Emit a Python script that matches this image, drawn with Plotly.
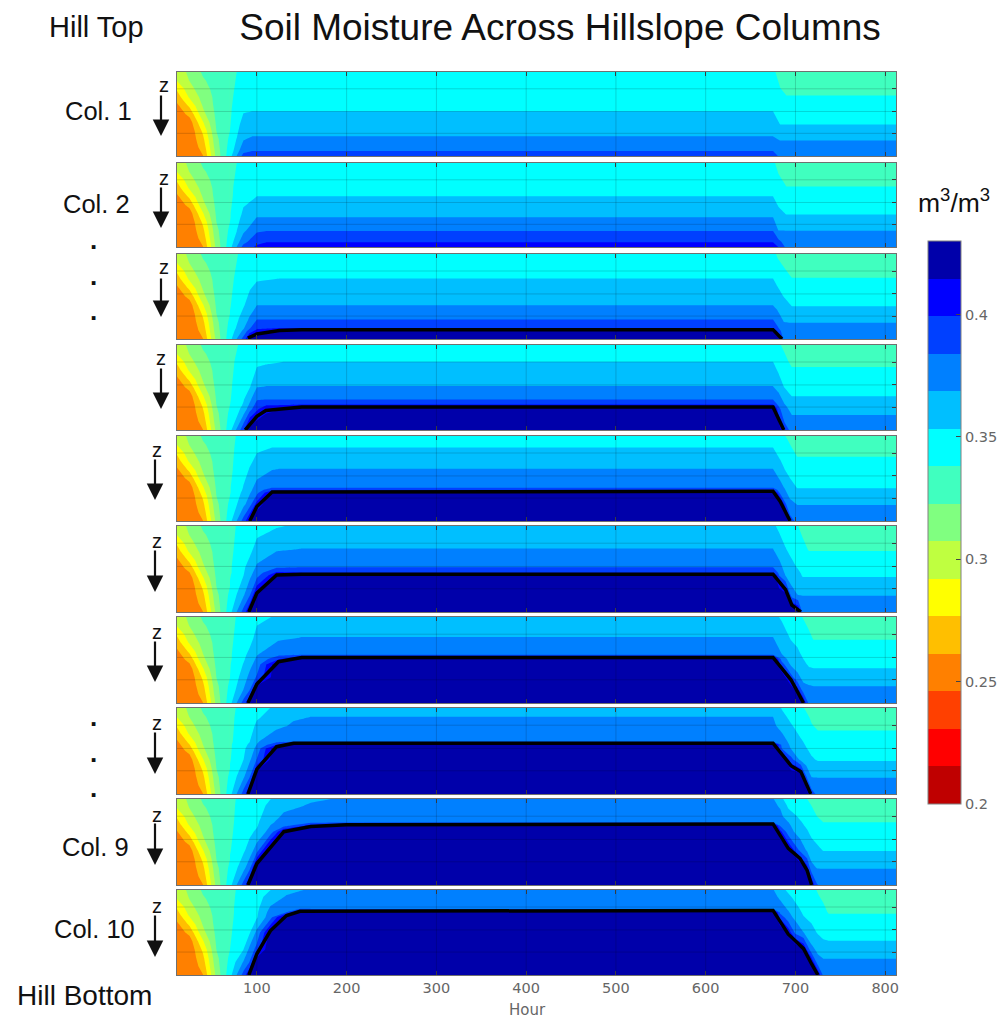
import numpy as np
import plotly.graph_objects as go

# ---------- colour classes ----------
CLASS_COLOURS = ["#BF0000", "#FF0000", "#FF4000", "#FF8000", "#FFBF00", "#FFFF00", "#BFFF40", "#80FF80",
                 "#40FFBF", "#00FFFF", "#00BFFF", "#0080FF", "#0040FF", "#0000FF", "#0000AA"]
Z_MIN = 0.2
Z_MAX = 0.43
CBAR_TICKS = [0.2, 0.25, 0.3, 0.35, 0.4]
HOUR_TICKS = [100, 200, 300, 400, 500, 600, 700, 800]
DEPTH_GRID = [0.2, 0.47, 0.73]

# ---------- early drying stripes, common to every column (moisture by depth, one list per hour) ----------
EARLY_DEPTHS = [0, .1, .2, .3, .4, .5, .6, .7, .8, .9, 1]
EARLY_HOURS = [11, 25, 40, 55, 70]
EARLY_Z = [
    [.298, .293, .279, .269, .258, .252, .250, .250, .250, .250, .250],
    [.311, .308, .302, .294, .280, .266, .254, .250, .250, .250, .250],
    [.325, .321, .317, .313, .309, .303, .291, .280, .273, .267, .261],
    [.329, .329, .328, .327, .327, .326, .325, .323, .319, .316, .312],
    [.335, .335, .335, .335, .336, .336, .337, .338, .341, .344, .348],
]

# ---------- per column: depth nodes, hours, moisture (one list per hour) ----------
COL1_DEPTHS = [0, .28, .46, .62, .77, .82, .94, 1]
COL1_HOURS = [70, 85, 95, 675, 683, 690, 812]
COL1_Z = [
    [.335, .335, .336, .337, .339, .341, .344, .348],
    [.341, .347, .352, .359, .366, .369, .380, .390],
    [.341, .347, .353, .361, .369, .373, .384, .392],
    [.341, .347, .353, .361, .369, .373, .384, .392],
    [.332, .341, .347, .353, .365, .369, .376, .380],
    [.330, .338, .346, .353, .365, .369, .376, .380],
    [.330, .338, .346, .353, .365, .369, .376, .380],
]

COL2_DEPTHS = [0, .28, .39, .61, .65, .81, .94, 1]
COL2_HOURS = [70, 85, 100, 111, 675, 681, 690, 812]
COL2_Z = [
    [.335, .335, .335, .337, .337, .340, .345, .348],
    [.341, .347, .349, .356, .358, .366, .379, .390],
    [.341, .349, .353, .366, .369, .382, .396, .402],
    [.341, .349, .353, .366, .369, .384, .399, .407],
    [.341, .349, .353, .366, .369, .384, .399, .407],
    [.333, .344, .348, .357, .360, .369, .389, .399],
    [.330, .338, .343, .353, .356, .369, .376, .380],
    [.330, .338, .343, .353, .356, .369, .376, .380],
]

COL3_DEPTHS = [0, .28, .61, .77, .875, .905, 1]
COL3_HOURS = [70, 85, 92, 100, 125, 150, 675, 680, 687, 696, 812]
COL3_Z = [
    [.335, .335, .337, .340, .343, .344, .348],
    [.340, .345, .352, .361, .367, .372, .390],
    [.340, .347, .361, .371, .383, .393, .417],
    [.341, .351, .369, .384, .397, .404, .430],
    [.342, .353, .369, .384, .400, .417, .430],
    [.342, .353, .369, .384, .400, .425, .430],
    [.342, .353, .369, .384, .400, .425, .430],
    [.336, .348, .365, .376, .387, .394, .430],
    [.332, .343, .358, .367, .373, .375, .380],
    [.330, .338, .353, .366, .373, .375, .380],
    [.330, .338, .353, .366, .373, .375, .380],
]

COL4_DEPTHS = [0, .19, .49, .64, .71, .75, 1]
COL4_HOURS = [70, 85, 92, 100, 110, 130, 150, 675, 681, 688, 696, 812]
COL4_Z = [
    [.335, .335, .336, .337, .338, .339, .348],
    [.340, .344, .349, .352, .355, .358, .395],
    [.341, .346, .352, .365, .372, .377, .430],
    [.343, .349, .368, .383, .391, .396, .430],
    [.344, .351, .369, .384, .399, .410, .430],
    [.346, .353, .369, .384, .400, .415, .430],
    [.346, .353, .369, .384, .402, .430, .430],
    [.346, .353, .369, .384, .402, .430, .430],
    [.340, .345, .363, .376, .383, .389, .430],
    [.335, .341, .352, .364, .370, .373, .390],
    [.330, .335, .348, .355, .361, .364, .380],
    [.330, .335, .348, .355, .361, .364, .380],
]

COL5_DEPTHS = [0, .13, .39, .61, .635, .665, .8, 1]
COL5_HOURS = [70, 85, 92, 100, 117, 125, 675, 683, 690, 694, 702, 812]
COL5_Z = [
    [.335, .335, .335, .337, .337, .337, .341, .348],
    [.342, .344, .349, .354, .355, .357, .364, .390],
    [.344, .347, .354, .364, .365, .367, .377, .416],
    [.347, .350, .362, .374, .376, .379, .405, .430],
    [.349, .353, .368, .384, .395, .418, .430, .430],
    [.349, .353, .369, .384, .395, .430, .430, .430],
    [.349, .353, .369, .384, .395, .430, .430, .430],
    [.342, .346, .359, .375, .377, .378, .430, .430],
    [.337, .343, .351, .365, .367, .369, .381, .430],
    [.335, .339, .348, .359, .361, .363, .373, .390],
    [.330, .334, .343, .353, .355, .357, .368, .380],
    [.330, .334, .343, .353, .355, .357, .368, .380],
]

COL6_DEPTHS = [0, .27, .48, .545, .575, .8, 1]
COL6_HOURS = [70, 85, 92, 100, 122, 150, 675, 682, 689, 696, 703, 708, 715, 812]
COL6_Z = [
    [.335, .335, .336, .336, .337, .341, .348],
    [.342, .346, .351, .352, .353, .366, .390],
    [.344, .349, .359, .363, .365, .382, .416],
    [.347, .359, .371, .376, .379, .418, .430],
    [.352, .367, .382, .402, .414, .430, .430],
    [.356, .369, .384, .400, .430, .430, .430],
    [.356, .369, .384, .400, .430, .430, .430],
    [.350, .361, .374, .380, .383, .430, .430],
    [.346, .354, .363, .366, .368, .420, .430],
    [.342, .349, .357, .360, .361, .375, .430],
    [.338, .345, .352, .356, .358, .368, .418],
    [.334, .342, .350, .351, .352, .368, .380],
    [.330, .337, .347, .350, .352, .368, .380],
    [.330, .337, .347, .350, .352, .368, .380],
]

COL7_DEPTHS = [0, .24, .44, .485, .55, .7, .85, 1]
COL7_HOURS = [70, 85, 92, 100, 124, 150, 675, 685, 695, 702, 709, 715, 720, 812]
COL7_Z = [
    [.335, .335, .336, .336, .337, .338, .342, .348],
    [.342, .346, .350, .351, .354, .361, .369, .390],
    [.344, .348, .357, .360, .364, .373, .384, .416],
    [.350, .358, .368, .371, .375, .386, .430, .430],
    [.355, .366, .381, .395, .430, .430, .430, .430],
    [.358, .369, .384, .430, .430, .430, .430, .430],
    [.358, .369, .384, .430, .430, .430, .430, .430],
    [.351, .361, .369, .375, .390, .430, .430, .430],
    [.346, .352, .361, .363, .366, .390, .430, .430],
    [.342, .349, .357, .359, .362, .373, .408, .430],
    [.337, .345, .351, .353, .357, .364, .375, .415],
    [.333, .341, .347, .349, .351, .362, .373, .380],
    [.330, .337, .345, .347, .350, .361, .372, .380],
    [.330, .337, .345, .347, .350, .361, .372, .380],
]

COL8_DEPTHS = [0, .11, .21, .39, .425, .47, .6, .8, 1]
COL8_HOURS = [70, 85, 92, 100, 122, 141, 160, 675, 685, 695, 706, 712, 718, 725, 812]
COL8_Z = [
    [.335, .335, .335, .335, .336, .336, .337, .341, .348],
    [.342, .344, .345, .349, .350, .351, .353, .366, .390],
    [.344, .346, .348, .353, .355, .358, .366, .383, .416],
    [.350, .352, .356, .367, .369, .374, .385, .430, .430],
    [.355, .359, .365, .381, .396, .430, .430, .430, .430],
    [.362, .367, .371, .381, .430, .430, .430, .430, .430],
    [.365, .369, .372, .381, .430, .430, .430, .430, .430],
    [.365, .369, .372, .381, .430, .430, .430, .430, .430],
    [.352, .358, .363, .376, .379, .383, .430, .430, .430],
    [.347, .350, .355, .364, .366, .368, .390, .430, .430],
    [.341, .344, .347, .355, .357, .359, .364, .430, .430],
    [.336, .341, .344, .351, .352, .354, .360, .385, .430],
    [.333, .336, .339, .347, .349, .350, .355, .368, .390],
    [.330, .333, .336, .343, .345, .347, .352, .368, .380],
    [.330, .333, .336, .343, .345, .347, .352, .368, .380],
]

COL9_DEPTHS = [0, .08, .2, .27, .31, .38, .6, .8, 1]
COL9_HOURS = [70, 85, 92, 100, 115, 130, 160, 200, 675, 683, 692, 705, 713, 718, 724, 731, 812]
COL9_Z = [
    [.335, .335, .335, .335, .335, .335, .337, .341, .348],
    [.342, .343, .344, .345, .346, .348, .351, .363, .390],
    [.344, .345, .347, .348, .349, .350, .360, .380, .416],
    [.345, .347, .349, .351, .352, .356, .378, .430, .430],
    [.353, .357, .362, .366, .369, .375, .430, .430, .430],
    [.360, .365, .371, .375, .379, .418, .430, .430, .430],
    [.367, .370, .376, .381, .405, .430, .430, .430, .430],
    [.370, .372, .377, .381, .430, .430, .430, .430, .430],
    [.370, .372, .377, .381, .430, .430, .430, .430, .430],
    [.357, .367, .373, .380, .383, .405, .430, .430, .430],
    [.347, .351, .360, .369, .372, .376, .418, .430, .430],
    [.342, .345, .351, .355, .357, .361, .382, .430, .430],
    [.338, .341, .346, .349, .351, .355, .367, .405, .430],
    [.335, .338, .342, .344, .346, .349, .362, .372, .415],
    [.333, .335, .338, .342, .344, .348, .356, .368, .385],
    [.330, .332, .335, .338, .339, .343, .353, .368, .380],
    [.330, .332, .335, .338, .339, .343, .353, .368, .380],
]

COL10_DEPTHS = [0, .08, .22, .26, .32, .5, .7, .85, 1]
COL10_HOURS = [70, 85, 92, 100, 115, 133, 148, 160, 675, 683, 692, 700, 709, 718, 725, 731, 737, 812]
COL10_Z = [
    [.335, .335, .335, .335, .335, .336, .338, .342, .348],
    [.342, .343, .345, .345, .346, .349, .353, .370, .390],
    [.344, .345, .347, .348, .349, .352, .373, .385, .416],
    [.345, .347, .350, .351, .352, .373, .390, .430, .430],
    [.353, .360, .371, .374, .378, .420, .430, .430, .430],
    [.365, .370, .380, .383, .430, .430, .430, .430, .430],
    [.368, .373, .383, .418, .430, .430, .430, .430, .430],
    [.370, .373, .381, .430, .430, .430, .430, .430, .430],
    [.370, .373, .381, .430, .430, .430, .430, .430, .430],
    [.358, .366, .375, .379, .395, .430, .430, .430, .430],
    [.351, .356, .367, .370, .374, .410, .430, .430, .430],
    [.347, .350, .357, .360, .365, .380, .430, .430, .430],
    [.344, .347, .350, .351, .354, .369, .415, .430, .430],
    [.341, .344, .347, .348, .350, .358, .373, .413, .430],
    [.337, .339, .343, .345, .346, .352, .365, .375, .415],
    [.334, .336, .340, .341, .343, .349, .360, .372, .380],
    [.330, .332, .336, .337, .340, .347, .360, .372, .380],
    [.330, .332, .336, .337, .340, .347, .360, .372, .380],
]

# ---------- black saturation line (hour, depth); columns 1 and 2 have none ----------
WT3_HOURS = [90, 100, 125, 150, 675, 685]
WT3_DEPTH = [.99, .94, .90, .89, .89, 1.0]
WT4_HOURS = [87, 100, 110, 130, 150, 675, 687]
WT4_DEPTH = [1.0, .84, .77, .75, .73, .73, 1.0]
WT5_HOURS = [92, 100, 117, 675, 683, 690, 694]
WT5_DEPTH = [1.0, .83, .66, .65, .77, .91, 1.0]
WT6_HOURS = [91, 100, 122, 150, 675, 689, 696, 703, 706]
WT6_DEPTH = [1.0, .78, .57, .56, .56, .74, .92, .98, 1.0]
WT7_HOURS = [90, 100, 124, 150, 675, 695, 709]
WT7_DEPTH = [1.0, .78, .52, .47, .47, .73, 1.0]
WT8_HOURS = [90, 100, 122, 141, 675, 695, 706, 717]
WT8_DEPTH = [1.0, .71, .45, .41, .41, .67, .74, 1.0]
WT9_HOURS = [90, 100, 130, 160, 200, 675, 692, 705, 713, 718]
WT9_DEPTH = [1.0, .75, .38, .32, .30, .29, .575, .69, .83, 1.0]
WT10_HOURS = [91, 100, 115, 133, 148, 675, 692, 709, 718, 725]
WT10_DEPTH = [1.0, .75, .48, .30, .25, .24, .52, .69, .87, 1.0]

PANELS = [
    (COL1_DEPTHS, COL1_HOURS, COL1_Z, None, None),
    (COL2_DEPTHS, COL2_HOURS, COL2_Z, None, None),
    (COL3_DEPTHS, COL3_HOURS, COL3_Z, WT3_HOURS, WT3_DEPTH),
    (COL4_DEPTHS, COL4_HOURS, COL4_Z, WT4_HOURS, WT4_DEPTH),
    (COL5_DEPTHS, COL5_HOURS, COL5_Z, WT5_HOURS, WT5_DEPTH),
    (COL6_DEPTHS, COL6_HOURS, COL6_Z, WT6_HOURS, WT6_DEPTH),
    (COL7_DEPTHS, COL7_HOURS, COL7_Z, WT7_HOURS, WT7_DEPTH),
    (COL8_DEPTHS, COL8_HOURS, COL8_Z, WT8_HOURS, WT8_DEPTH),
    (COL9_DEPTHS, COL9_HOURS, COL9_Z, WT9_HOURS, WT9_DEPTH),
    (COL10_DEPTHS, COL10_HOURS, COL10_Z, WT10_HOURS, WT10_DEPTH),
]

# ---------- layout in pixels ----------
W, H = 1008, 1022
PANEL_TOPS = [72, 163, 254, 345, 436, 526, 617, 708, 799, 890]
PANEL_BOTTOMS = [156, 247, 339, 430, 521, 612, 703, 794, 885, 975]
PLOT_X = (177, 896)
ARROW_X = [161, 161, 161, 161, 155, 155, 155, 155, 155, 155]
ARROW_TOP = [94, 186, 277, 367, 458, 549, 640, 731, 822, 914]
ARROW_TIP = [136, 228, 317, 409, 500, 592, 682, 774, 865, 957]
Z_X = [164, 164, 164, 161, 157, 157, 157, 157, 157, 157]
Z_Y = [85, 178, 267, 358, 450, 541, 632, 723, 815, 906]
LABELS = [("Hill Top", 96, 27, 29), ("Col. 1", 98, 111, 25.5), ("Col. 2", 96, 204, 25.5),
          ("Col. 9", 95, 847, 25.5), ("Col. 10", 94, 929, 25.5), ("Hill Bottom", 84, 995, 28)]
DOTS_X = 93
DOTS_Y = [245, 281, 316, 722, 758, 793]

px = lambda x: x / W
py = lambda y: 1 - y / H

CS = (Z_MAX - Z_MIN) / 15
scale = [[i / 14, c] for i, c in enumerate(CLASS_COLOURS)]
contours = dict(start=Z_MIN + CS, end=Z_MIN + 14 * CS + 1e-6, size=CS, coloring="fill", showlines=False)
GREY = "#666666"
TICKFONT = dict(family="DejaVu Sans", size=14.5, color=GREY)

fig = go.Figure()
layout = dict(width=W, height=H, margin=dict(l=0, r=0, t=0, b=0, autoexpand=False), showlegend=False,
              paper_bgcolor="white", plot_bgcolor="white",
              title=dict(text="Soil Moisture Across Hillslope Columns", x=px(560), xanchor="center",
                         y=py(27), yanchor="middle", font=dict(family="Liberation Sans", size=37, color="#111")))
shapes, annotations = [], []

for i, (depths, hours, z_cols, wt_h, wt_d) in enumerate(PANELS):
    n = i + 1
    xa, ya = f"x{n}", f"y{n}"
    common = dict(xaxis=xa, yaxis=ya, zmin=Z_MIN, zmax=Z_MAX, colorscale=scale, autocontour=False,
                  contours=contours, line=dict(width=0, smoothing=0), hoverinfo="skip")
    fig.add_trace(go.Contour(x=EARLY_HOURS, y=EARLY_DEPTHS, z=np.array(EARLY_Z).T, showscale=False, **common))
    show = i == 0
    cb = dict(x=px(927.5), xanchor="left", xpad=0, y=py(804), yanchor="bottom", ypad=0, len=563 / H,
              lenmode="fraction", thickness=33, thicknessmode="pixels", outlinecolor="#808080", outlinewidth=1,
              ticks="inside", ticklen=5, tickcolor="#444444", tickwidth=1, tickvals=CBAR_TICKS,
              ticktext=[str(v) for v in CBAR_TICKS], tickfont=TICKFONT)
    fig.add_trace(go.Contour(x=hours, y=depths, z=np.array(z_cols).T, showscale=show,
                             colorbar=cb if show else None, **common))
    if wt_h is not None:
        fig.add_trace(go.Scatter(x=wt_h, y=wt_d, xaxis=xa, yaxis=ya, mode="lines", hoverinfo="skip",
                                 line=dict(color="black", width=3.5)))
    suffix = "" if n == 1 else str(n)
    layout[f"xaxis{suffix}"] = dict(domain=[px(PLOT_X[0]), px(PLOT_X[1])], range=[11, 812], anchor=ya,
                                    tickvals=HOUR_TICKS, ticks="inside", ticklen=4, tickcolor="#444444",
                                    showgrid=False, zeroline=False, showline=True, linecolor="#707070",
                                    linewidth=1, mirror="ticks", showticklabels=n == 10, tickfont=TICKFONT,
                                    tickangle=0)
    layout[f"yaxis{suffix}"] = dict(domain=[py(PANEL_BOTTOMS[i]), py(PANEL_TOPS[i])], range=[1, 0], anchor=xa,
                                    side="right", tickvals=DEPTH_GRID, ticks="inside", ticklen=4,
                                    tickcolor="#444444", showgrid=False, zeroline=False, showline=True,
                                    linecolor="#707070", linewidth=1, mirror=True, showticklabels=False)
    for h in HOUR_TICKS:
        shapes.append(dict(type="line", xref=xa, yref=ya, x0=h, x1=h, y0=0, y1=1, layer="above",
                           line=dict(color="rgba(0,0,0,0.16)", width=1)))
    for d in DEPTH_GRID:
        shapes.append(dict(type="line", xref=xa, yref=ya, x0=11, x1=812, y0=d, y1=d, layer="above",
                           line=dict(color="rgba(0,0,0,0.16)", width=1)))
    annotations.append(dict(xref="paper", yref="paper", x=px(ARROW_X[i]), y=py(ARROW_TIP[i]), text="",
                            showarrow=True, axref="pixel", ayref="pixel", ax=0, ay=ARROW_TOP[i] - ARROW_TIP[i],
                            arrowhead=2, arrowsize=1.5, arrowwidth=2.2, arrowcolor="#111"))
    annotations.append(dict(xref="paper", yref="paper", x=px(Z_X[i]), y=py(Z_Y[i]), text="z", showarrow=False,
                            xanchor="center", yanchor="middle",
                            font=dict(family="Liberation Sans", size=20, color="#111")))

for text, x, y, size in LABELS:
    annotations.append(dict(xref="paper", yref="paper", x=px(x), y=py(y), text=text, showarrow=False,
                            xanchor="center", yanchor="middle",
                            font=dict(family="Liberation Sans", size=size, color="#111")))
for y in DOTS_Y:
    annotations.append(dict(xref="paper", yref="paper", x=px(DOTS_X), y=py(y - 5), text="<b>.</b>", showarrow=False,
                            xanchor="center", yanchor="middle",
                            font=dict(family="Liberation Sans", size=26, color="#111")))
annotations.append(dict(xref="paper", yref="paper", x=px(953.5), y=py(201), text="m<sup>3</sup>/m<sup>3</sup>",
                        showarrow=False, xanchor="center", yanchor="middle",
                        font=dict(family="Liberation Sans", size=26.5, color="#111")))
annotations.append(dict(xref="paper", yref="paper", x=px(527), y=py(1010), text="Hour", showarrow=False,
                        xanchor="center", yanchor="middle", borderpad=0,
                        font=dict(family="DejaVu Sans", size=15, color=GREY)))

layout["shapes"] = shapes
layout["annotations"] = annotations
fig.update_layout(**layout)
fig.write_html("out.html", config=dict(displayModeBar=False), post_script="document.body.style.margin='0';")
